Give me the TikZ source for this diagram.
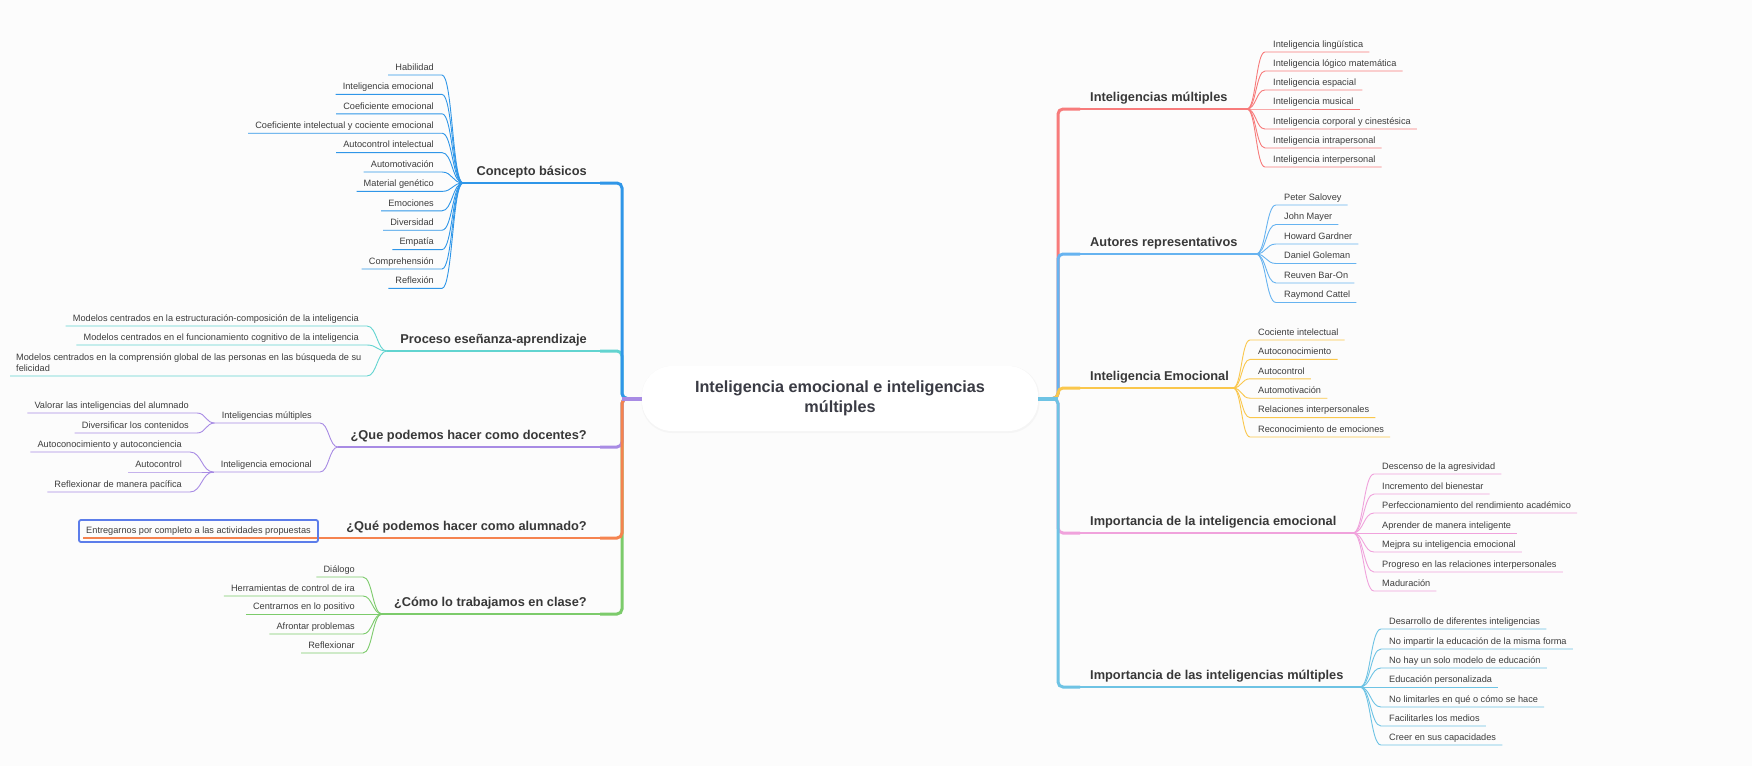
\documentclass[tikz,border=0pt]{standalone}
\usepackage{fontspec}
\setmainfont{Liberation Sans}
\usetikzlibrary{calc}
\definecolor{bgc}{HTML}{FCFCFC}
\definecolor{cBlue}{HTML}{2F96E8}
\definecolor{cTeal}{HTML}{62D4D0}
\definecolor{cPurple}{HTML}{A88BE4}
\definecolor{cOrange}{HTML}{F5834F}
\definecolor{cGreen}{HTML}{7CCB6B}
\definecolor{cRed}{HTML}{F77B7B}
\definecolor{cLBlue}{HTML}{66B3F0}
\definecolor{cYellow}{HTML}{FAC74C}
\definecolor{cPink}{HTML}{F0A2DC}
\definecolor{cSky}{HTML}{6EC3E4}
\definecolor{cBox}{HTML}{5C7DEA}
\definecolor{txt}{HTML}{3D3D3D}
\definecolor{txtm}{HTML}{383838}
\definecolor{txtr}{HTML}{3A3B44}
\definecolor{shadowc}{HTML}{F5F5F5}
\colorlet{curcol}{cBlue}
\tikzset{
  kid/.style={font=\fontsize{9.2}{11.5}\selectfont, text=txt, inner sep=0pt},
  mainlbl/.style={font=\fontsize{12.8}{15}\selectfont\bfseries, text=txtm, inner sep=0pt},
  rootbox/.style={fill=white, rounded corners=30pt, minimum width=396pt, minimum height=65pt,
    align=center, font=\fontsize{16.2}{20}\selectfont\bfseries, text=txtr, inner sep=0pt},
  shadowbox/.style={fill=shadowc, rounded corners=31pt, minimum width=398pt, minimum height=67pt, inner sep=0pt},
  albox/.style={draw=cBox, line width=1.8pt, rounded corners=2pt, minimum width=239pt,
    minimum height=22pt, font=\fontsize{9.2}{11.5}\selectfont, text=txt, inner sep=0pt},
  trunk/.style={line width=3pt, rounded corners=5pt},
  branchln/.style={line width=1.3pt},
  stubln/.style={line width=4pt},
  kidline/.style={line width=0.9pt, draw=curcol},
}
% left child: name, junction, y, curve x, text
\newcommand\LKid[5]{%
  \coordinate (#1-b) at (#4,#3);
  \node[kid,anchor=base east] (#1) at ($(#1-b)+(-8,-4.8)$) {#5};
  \coordinate (#1-w) at (#1.west |- #1-b);
  \coordinate (#1-a) at ($(#1-w)+(-7,0)$);
  \coordinate (#1-m) at ($(#1-b)!0.5!(#2)$);
  \draw[kidline] (#1-a) -- (#1-b) .. controls (#1-m |- #1-b) and (#1-m |- #2) .. (#2);
}
% right child: name, junction, y, curve x, text
\newcommand\RKid[5]{%
  \coordinate (#1-a) at (#4,#3);
  \node[kid,anchor=base west] (#1) at ($(#1-a)+(8,-4.8)$) {#5};
  \coordinate (#1-e) at (#1.east |- #1-a);
  \coordinate (#1-b) at ($(#1-e)+(6,0)$);
  \coordinate (#1-m) at ($(#1-a)!0.5!(#2)$);
  \draw[kidline] (#2) .. controls (#1-m |- #2) and (#1-m |- #1-a) .. (#1-a) -- (#1-b);
}
% left main branch: name, colour, y, junction x, text
\newcommand\LMain[5]{%
  \coordinate (#1-j) at (#4,#3);
  \coordinate (#1-s) at (600,#3);
  \node[mainlbl,anchor=base east] (#1) at (587,#3-8) {#5};
  \draw[trunk,draw=#2] (root.west) -- (LJ) |- (#1-s);
  \draw[branchln,draw=#2] (#1-s) -- (#1-j);
}
% right main branch
\newcommand\RMain[5]{%
  \coordinate (#1-j) at (#4,#3);
  \coordinate (#1-s) at (1080,#3);
  \node[mainlbl,anchor=base west] (#1) at (1090,#3-8) {#5};
  \draw[trunk,draw=#2] (root.east) -- (RJ) |- (#1-s);
  \draw[branchln,draw=#2] (#1-s) -- (#1-j);
}
\begin{document}
\begin{tikzpicture}[x=1pt,y=-1pt]
\useasboundingbox (0,0) rectangle (1752,766);
\fill[bgc] (0,0) rectangle (1752,766);

% root
\node[shadowbox] (rootsh) at (840.5,399.5) {};
\node[rootbox] (root) at (840,398.5) {Inteligencia emocional e inteligencias\\múltiples};
\coordinate (LJ) at (622,398.5);
\coordinate (RJ) at (1058,398.5);

% ---------- left side ----------
\LMain{pr}{cTeal}{351}{387}{Proceso eseñanza-aprendizaje}
\LMain{cb}{cBlue}{183}{463}{Concepto básicos}
\LMain{cl}{cGreen}{614}{382}{¿Cómo lo trabajamos en clase?}
\LMain{dc}{cPurple}{447}{338}{¿Que podemos hacer como docentes?}
\LMain{al}{cOrange}{538}{83}{¿Qué podemos hacer como alumnado?}
\draw[stubln,cPurple] (root.west) -- (LJ);

% Concepto básicos
\colorlet{curcol}{cBlue}
\LKid{c1}{cb-j}{75}{442}{Habilidad}
\LKid{c2}{cb-j}{94.4}{442}{Inteligencia emocional}
\LKid{c3}{cb-j}{113.8}{442}{Coeficiente emocional}
\LKid{c4}{cb-j}{133.2}{442}{Coeficiente intelectual y cociente emocional}
\LKid{c5}{cb-j}{152.6}{442}{Autocontrol intelectual}
\LKid{c6}{cb-j}{172}{442}{Automotivación}
\LKid{c7}{cb-j}{191.4}{442}{Material genético}
\LKid{c8}{cb-j}{210.8}{442}{Emociones}
\LKid{c9}{cb-j}{230.2}{442}{Diversidad}
\LKid{c10}{cb-j}{249.6}{442}{Empatía}
\LKid{c11}{cb-j}{269}{442}{Comprehensión}
\LKid{c12}{cb-j}{288.4}{442}{Reflexión}

% Proceso
\colorlet{curcol}{cTeal}
\LKid{p1}{pr-j}{326}{367}{Modelos centrados en la estructuración-composición de la inteligencia}
\LKid{p2}{pr-j}{345}{367}{Modelos centrados en el funcionamiento cognitivo de la inteligencia}
\coordinate (p3-b) at (367,376);
\node[kid,anchor=south west,align=left] (p3) at (16,372) {Modelos centrados en la comprensión global de las personas en las búsqueda de su\\felicidad};
\coordinate (p3-w) at (p3.west |- p3-b);
\coordinate (p3-a) at ($(p3-w)+(-6,0)$);
\coordinate (p3-m) at ($(p3-b)!0.5!(pr-j)$);
\draw[kidline] (p3-a) -- (p3-b) .. controls (p3-m |- p3-b) and (p3-m |- pr-j) .. (pr-j);

% Docentes
\colorlet{curcol}{cPurple}
\LKid{dm}{dc-j}{423}{320}{Inteligencias múltiples}
\LKid{de}{dc-j}{472}{320}{Inteligencia emocional}
\LKid{v1}{dm-a}{413}{197}{Valorar las inteligencias del alumnado}
\LKid{v2}{dm-a}{433}{197}{Diversificar los contenidos}
\LKid{e1}{de-a}{452}{190}{Autoconocimiento y autoconciencia}
\LKid{e2}{de-a}{472}{190}{Autocontrol}
\LKid{e3}{de-a}{492}{190}{Reflexionar de manera pacífica}

% Alumnado
\node[albox] (alk) at (198.5,531) {Entregarnos por completo a las actividades propuestas};

% Clase
\colorlet{curcol}{cGreen}
\LKid{k1}{cl-j}{577}{363}{Diálogo}
\LKid{k2}{cl-j}{596}{363}{Herramientas de control de ira}
\LKid{k3}{cl-j}{614}{363}{Centrarnos en lo positivo}
\LKid{k4}{cl-j}{634}{363}{Afrontar problemas}
\LKid{k5}{cl-j}{653}{363}{Reflexionar}

% ---------- right side ----------
\RMain{im}{cRed}{109}{1247}{Inteligencias múltiples}
\RMain{au}{cLBlue}{254}{1256}{Autores representativos}
\RMain{ie}{cYellow}{388}{1233}{Inteligencia Emocional}
\RMain{ii}{cPink}{533}{1353}{Importancia de la inteligencia emocional}
\RMain{iim}{cSky}{687}{1360}{Importancia de las inteligencias múltiples}
\draw[stubln,cSky] (root.east) -- (RJ);

\colorlet{curcol}{cRed}
\RKid{m1}{im-j}{52}{1265}{Inteligencia lingüística}
\RKid{m2}{im-j}{71}{1265}{Inteligencia lógico matemática}
\RKid{m3}{im-j}{90}{1265}{Inteligencia espacial}
\RKid{m4}{im-j}{109}{1265}{Inteligencia musical}
\RKid{m5}{im-j}{129}{1265}{Inteligencia corporal y cinestésica}
\RKid{m6}{im-j}{148}{1265}{Inteligencia intrapersonal}
\RKid{m7}{im-j}{167}{1265}{Inteligencia interpersonal}

\colorlet{curcol}{cLBlue}
\RKid{a1}{au-j}{205}{1276}{Peter Salovey}
\RKid{a2}{au-j}{224.5}{1276}{John Mayer}
\RKid{a3}{au-j}{244}{1276}{Howard Gardner}
\RKid{a4}{au-j}{263.5}{1276}{Daniel Goleman}
\RKid{a5}{au-j}{283}{1276}{Reuven Bar-On}
\RKid{a6}{au-j}{302.5}{1276}{Raymond Cattel}

\colorlet{curcol}{cYellow}
\RKid{y1}{ie-j}{340}{1250}{Cociente intelectual}
\RKid{y2}{ie-j}{359.4}{1250}{Autoconocimiento}
\RKid{y3}{ie-j}{378.8}{1250}{Autocontrol}
\RKid{y4}{ie-j}{398.2}{1250}{Automotivación}
\RKid{y5}{ie-j}{417.6}{1250}{Relaciones interpersonales}
\RKid{y6}{ie-j}{437}{1250}{Reconocimiento de emociones}

\colorlet{curcol}{cPink}
\RKid{q1}{ii-j}{474}{1374}{Descenso de la agresividad}
\RKid{q2}{ii-j}{494}{1374}{Incremento del bienestar}
\RKid{q3}{ii-j}{513}{1374}{Perfeccionamiento del rendimiento académico}
\RKid{q4}{ii-j}{533}{1374}{Aprender de manera inteligente}
\RKid{q5}{ii-j}{552}{1374}{Mejpra su inteligencia emocional}
\RKid{q6}{ii-j}{572}{1374}{Progreso en las relaciones interpersonales}
\RKid{q7}{ii-j}{591}{1374}{Maduración}

\colorlet{curcol}{cSky}
\RKid{s1}{iim-j}{629}{1381}{Desarrollo de diferentes inteligencias}
\RKid{s2}{iim-j}{649}{1381}{No impartir la educación de la misma forma}
\RKid{s3}{iim-j}{668}{1381}{No hay un solo modelo de educación}
\RKid{s4}{iim-j}{687}{1381}{Educación personalizada}
\RKid{s5}{iim-j}{707}{1381}{No limitarles en qué o cómo se hace}
\RKid{s6}{iim-j}{726}{1381}{Facilitarles los medios}
\RKid{s7}{iim-j}{745}{1381}{Creer en sus capacidades}
\end{tikzpicture}
\end{document}
